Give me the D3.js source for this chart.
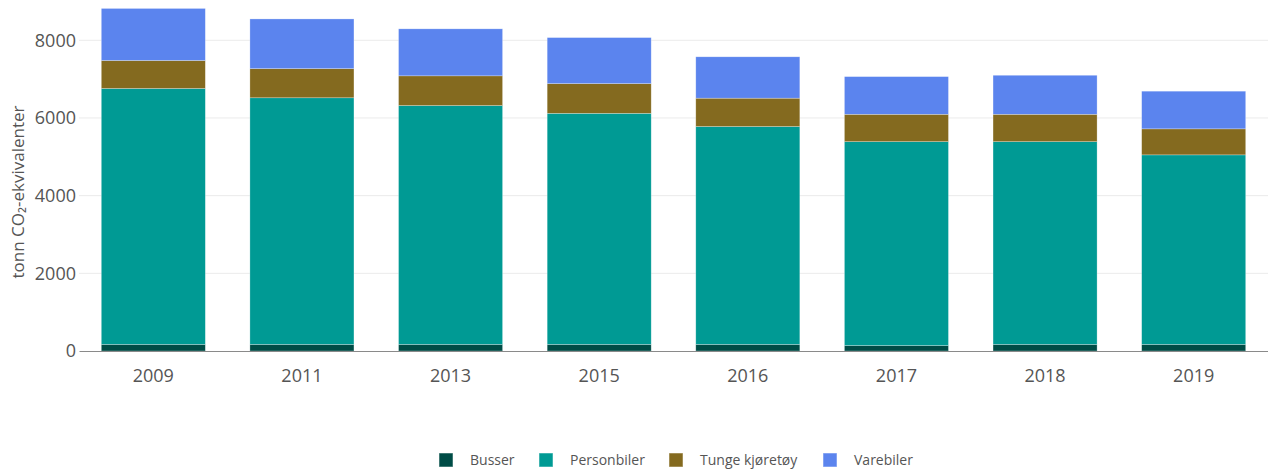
<!DOCTYPE html>
<meta charset="utf-8">
<script src="https://d3js.org/d3.v7.min.js"></script>
<style>
  body { margin: 0; background: #fff; }
  text { font-family: "Open Sans", sans-serif; }
</style>
<div id="chart"></div>
<script>
// data
const years = ["2009", "2011", "2013", "2015", "2016", "2017", "2018", "2019"];
const busser = [170, 170, 170, 170, 170, 140, 170, 170];
const personbiler = [6590, 6350, 6150, 5950, 5610, 5250, 5220, 4880];
const tunge = [720, 750, 765, 765, 730, 705, 705, 670];
const varebiler = [1340, 1280, 1210, 1185, 1065, 970, 1005, 970];
const seriesNames = ["Busser", "Personbiler", "Tunge kjøretøy", "Varebiler"];
const seriesColors = ["#004c46", "#009a94", "#846a1f", "#5b84ee"];
const yTicks = [0, 2000, 4000, 6000, 8000];

const W = 1268, H = 470;
const margin = {top: 40, right: 0, bottom: 119, left: 79};

const svg = d3.select("#chart").append("svg")
  .attr("width", W).attr("height", H);

const rows = years.map((yr, i) => ({
  year: yr, Busser: busser[i], Personbiler: personbiler[i],
  "Tunge kjøretøy": tunge[i], Varebiler: varebiler[i]
}));
const stacked = d3.stack().keys(seriesNames)(rows);

const x = d3.scaleBand()
  .domain(years)
  .range([margin.left, W - margin.right])
  .paddingInner(0.3).paddingOuter(0.15);

const y = d3.scaleLinear()
  .domain([0, 8000])
  .range([H - margin.bottom, margin.top + 0.3]);

// gridlines
svg.append("g")
  .selectAll("line")
  .data(yTicks.slice(1))
  .join("line")
    .attr("x1", margin.left).attr("x2", W - margin.right)
    .attr("y1", d => y(d)).attr("y2", d => y(d))
    .attr("stroke", "#ebebeb").attr("stroke-width", 1);

// bars
svg.append("g")
  .selectAll("g")
  .data(stacked)
  .join("g")
    .attr("fill", (d, i) => seriesColors[i])
  .selectAll("rect")
  .data(d => d)
  .join("rect")
    .attr("x", d => x(d.data.year))
    .attr("width", x.bandwidth())
    .attr("y", d => y(d[1]))
    .attr("height", d => y(d[0]) - y(d[1]))
    .attr("stroke", "rgba(255,255,255,0.45)")
    .attr("stroke-width", 0.6);

// y axis
const yAxis = svg.append("g")
  .attr("transform", `translate(${margin.left},0)`)
  .call(d3.axisLeft(y).tickValues(yTicks).tickSize(0).tickPadding(3).tickFormat(d3.format("d")));
yAxis.select(".domain").remove();
yAxis.selectAll("text")
  .style("font-size", "18px").attr("fill", "#555");

// x axis
const xAxis = svg.append("g")
  .attr("transform", `translate(0,${y(0)})`)
  .call(d3.axisBottom(x).tickSize(0).tickPadding(18));
xAxis.select(".domain").attr("stroke", "#8a8a8a").attr("stroke-width", 1.2);
xAxis.selectAll("text")
  .style("font-size", "18px").attr("fill", "#555");

// y title
svg.append("text")
  .attr("transform", `translate(24,${192}) rotate(-90)`)
  .attr("text-anchor", "middle")
  .style("font-size", "17px")
  .attr("fill", "#555")
  .text("tonn CO₂-ekvivalenter");

// legend
const legendX = [439, 539, 669, 823];
const legend = svg.append("g").attr("transform", "translate(0,460)");
const item = legend.selectAll("g")
  .data(seriesNames)
  .join("g")
    .attr("transform", (d, i) => `translate(${legendX[i]},0)`);
item.append("rect")
  .attr("x", 0).attr("y", -7).attr("width", 14).attr("height", 14)
  .attr("fill", (d, i) => seriesColors[i])
  .attr("stroke", "rgba(255,255,255,0.5)");
item.append("text")
  .attr("x", 31).attr("y", 0).attr("dy", "0.35em")
  .style("font-size", "14px").attr("fill", "#555")
  .text(d => d);
</script>
